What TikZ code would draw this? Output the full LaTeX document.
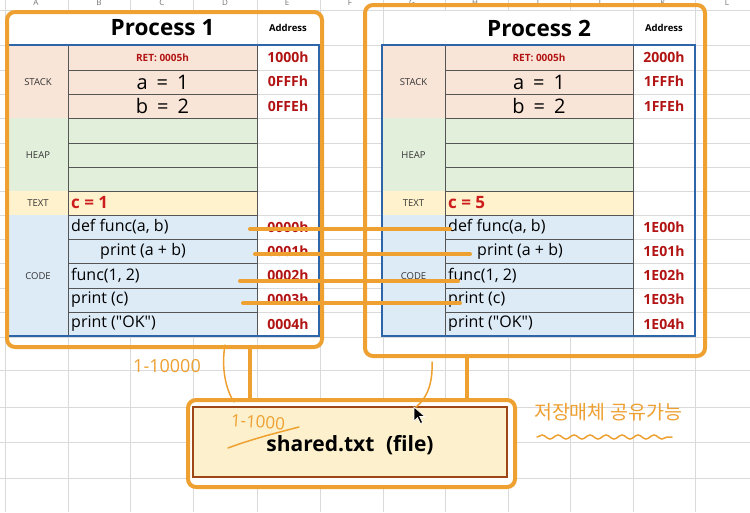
\documentclass[tikz,border=0pt]{standalone}
\usepackage{fontspec}
\setmainfont{Open Sans}
\newfontfamily\kr{Noto Sans CJK KR}
\usetikzlibrary{fit,decorations.pathmorphing}
\definecolor{org}{RGB}{238,160,48}
\definecolor{gridc}{RGB}{218,218,218}
\definecolor{peach}{RGB}{249,229,215}
\definecolor{lgreen}{RGB}{226,239,218}
\definecolor{lyellow}{RGB}{255,242,204}
\definecolor{lblue}{RGB}{221,235,247}
\definecolor{dred}{RGB}{178,20,20}
\definecolor{cred}{RGB}{205,30,30}
\definecolor{tblue}{RGB}{46,100,168}
\definecolor{cellc}{RGB}{85,85,85}
\definecolor{brn}{RGB}{158,70,22}
\definecolor{filefill}{RGB}{252,240,205}
\newcommand\fs[1]{\fontsize{#1}{#1}\selectfont}
\tikzset{
  obox/.style={draw=org, line width=4pt, rounded corners=8pt, inner sep=0pt},
  conn/.style={draw=org, line width=4pt, line cap=round},
  hand/.style={draw=org, line width=1.5pt, line cap=round},
  gridl/.style={draw=gridc, line width=0.8pt},
  cell/.style={draw=cellc, line width=0.8pt},
  tb/.style={draw=tblue, line width=1.6pt},
  lab/.style={font=\fs{9.5}, text=black!80},
  addr/.style={font=\bfseries\fs{14}, text=dred},
  codet/.style={font=\fs{16}, anchor=west, inner sep=0pt},
  big/.style={font=\fs{20}},
}
% #1 prefix, #2 xL, #3 xB, #4 xE, #5 xR, #6 title, #7 c text, #8 stack addrs, #9 code addrs
\newcommand\proctab[9]{%
  \fill[white] (#3,11) rectangle (#4,44.4);
  \fill[peach] (#2,45) rectangle (#4,118);
  \fill[lgreen] (#2,118) rectangle (#4,191);
  \fill[lyellow] (#2,191) rectangle (#4,215);
  \fill[lblue] (#2,215) rectangle (#4,336);
  \foreach \yy in {70,94,118,143,167,191,215,239,263,288,312}
    \draw[cell] (#3,\yy) -- (#4,\yy);
  \draw[cell] (#3,45) -- (#3,336) (#4,45) -- (#4,336);
  \draw[tb] (#2,45) rectangle (#5,336);
  \node[font=\bfseries\fs{22.5}] (#1title) at ({(#3+#4)/2},28) {#6};
  \node[font=\bfseries\fs{9.5}] (#1addr) at ({(#4+#5)/2},28) {Address};
  \node[lab] (#1stack) at ({(#2+#3)/2},82) {STACK};
  \node[lab] (#1heap) at ({(#2+#3)/2},155) {HEAP};
  \node[lab] (#1text) at ({(#2+#3)/2},203) {TEXT};
  \node[lab] (#1code) at ({(#2+#3)/2},276) {CODE};
  \node[font=\bfseries\fs{10}, text=dred] (#1ret) at ({(#3+#4)/2},57.5) {RET: 0005h};
  \node[big] (#1a) at ({(#3+#4)/2},82) {a\hspace{0.45em}=\hspace{0.45em}1};
  \node[big] (#1b) at ({(#3+#4)/2},106) {b\hspace{0.45em}=\hspace{0.45em}2};
  \node[font=\bfseries\fs{17}, text=cred, anchor=west, inner sep=0pt] (#1c) at ({#3+3},203) {#7};
  \node[codet] (#1l1) at ({#3+3},227) {def func(a, b)};
  \node[codet] (#1l2) at ({#3+32},251) {print (a + b)};
  \node[codet] (#1l3) at ({#3+3},276) {func(1, 2)};
  \node[codet] (#1l4) at ({#3+3},300) {print (c)};
  \node[codet] (#1l5) at ({#3+3},324) {print (\textquotedbl OK\textquotedbl)};
  \foreach \ad [count=\i] in {#8}
    \node[addr] (#1sa\i) at ({(#4+#5)/2},{45+24.33*(\i-0.5)}) {\ad};
  \foreach \ad [count=\i] in {#9}
    \node[addr] (#1ca\i) at ({(#4+#5)/2},{215+24.2*(\i-0.5)}) {\ad};
}
\begin{document}
\begin{tikzpicture}[x=1pt,y=-1pt]
\useasboundingbox (0,0) rectangle (750,512);
\clip (0,0) rectangle (750,512);
\fill[white] (0,0) rectangle (750,512);
% spreadsheet grid
\foreach \x in {5,68,130,193,257,320,383,445,508,570,633,695}
  \draw[gridl] (\x,0) -- (\x,512);
\foreach \y in {10,45,70,94,118,143,167,191,215,239,263,288,312,337,370,407,442,478}
  \draw[gridl] (0,\y) -- (750,\y);
\foreach \L/\x in {A/36,B/99,C/162,D/225,E/287,F/350,G/412,H/475,I/538,J/600,K/663,L/727}
  \node[font=\fs{8}, text=black!55] (col\L) at (\x,2.5) {\L};
% tables
\proctab{p1t}{8}{68}{257}{319}{Process 1}{c = 1}{1000h,0FFFh,0FFEh}{0000h,0001h,0002h,0003h,0004h}
\proctab{p2t}{382}{445}{633}{695}{Process 2}{c = 5}{2000h,1FFFh,1FFEh}{1E00h,1E01h,1E02h,1E03h,1E04h}
% process boxes
\node[obox, fit={(7,12)(322,347)}] (p1) {};
\node[obox, fit={(365,5)(705,356)}] (p2) {};
% file box
\node[obox, fill=white, fit={(188,400)(515,487)}] (fbox) {};
\node[draw=brn, line width=2.2pt, fill=filefill, minimum width=314pt, minimum height=70pt, inner sep=0pt] (file) at (350,442) {};
\node[font=\bfseries\fs{21}, inner sep=1pt] (filetxt) at (350,445.5) {shared.txt\hspace{0.55em}(file)};
% connectors between code cells
\coordinate (a1) at (250,229); \coordinate (b1) at (450,229);
\coordinate (a2) at (255,254); \coordinate (b2) at (470,254);
\coordinate (a3) at (240,281); \coordinate (b3) at (458,281);
\coordinate (a4) at (243,303); \coordinate (b4) at (460,303);
\draw[conn] (a1) -- (b1);
\draw[conn] (a2) -- (b2);
\draw[conn] (a3) -- (b3);
\draw[conn] (a4) -- (b4);
% connectors to file
\coordinate (v1) at (250,0);
\coordinate (v2) at (467,0);
\draw[conn] (p1.south -| v1) -- (fbox.north -| v1);
\draw[conn] (p2.south -| v2) -- (fbox.north -| v2);
% handwritten notes
\draw[hand] (225,345) .. controls (221,368) and (226,390) .. (234,402);
\draw[hand] (432,362) .. controls (433,385) and (426,399) .. (416,407);
\node[text=org, font=\fs{18}] (h1) at (167,366) {1-10000};
\node[text=org, font=\fs{17}, rotate=-4, inner sep=0pt] (h2) at (258,422) {1-1000};
\draw[hand] (228,448) .. controls (255,438) and (280,432) .. (299,427);
\node[text=org, font=\kr\fs{19.5}] (h3) at (608,412) {저장매체 공유가능};
\draw[hand, decorate, decoration={snake, amplitude=2pt, segment length=16pt}] (537,437) -- (672,437);
% mouse cursor
\fill[black, draw=white, line width=0.6pt] (414,407) -- ++(0,14) -- ++(3.5,-3.5) -- ++(3,6) -- ++(2.2,-1) -- ++(-3,-6) -- ++(5,0) -- cycle;
\end{tikzpicture}
\end{document}
